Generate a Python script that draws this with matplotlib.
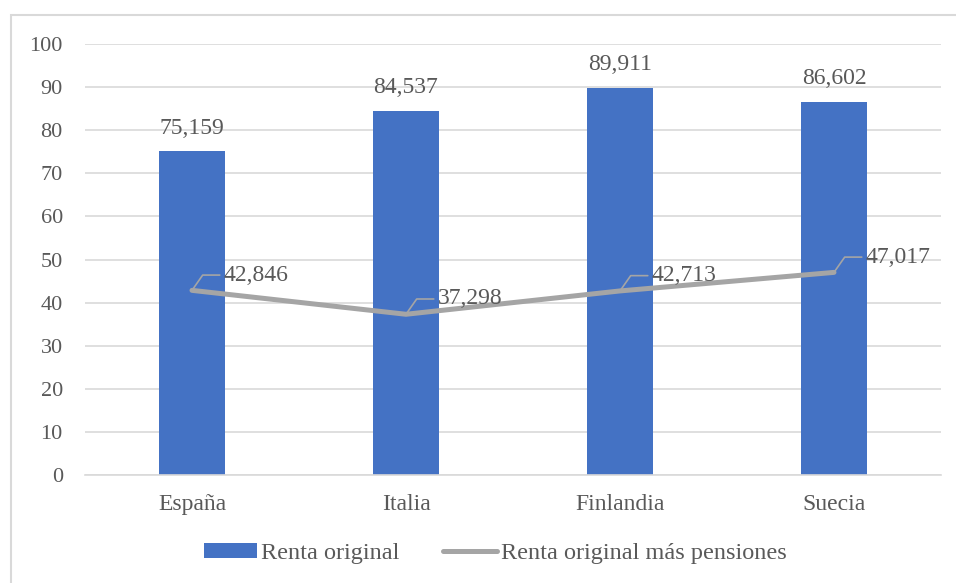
import numpy as np
import matplotlib.pyplot as plt
from matplotlib.patches import Rectangle
from matplotlib.lines import Line2D
from matplotlib.patches import Patch

# Data
paises = ['España', 'Italia', 'Finlandia', 'Suecia']
renta_original = [75.159, 84.537, 89.911, 86.602]
renta_pensiones = [42.846, 37.298, 42.713, 47.017]
etiq_original = ['75,159', '84,537', '89,911', '86,602']
etiq_pensiones = ['42,846', '37,298', '42,713', '47,017']

azul = '#4472C4'
gris = '#A5A5A5'
texto = '#595959'

plt.rcParams['font.family'] = ['Liberation Serif', 'DejaVu Serif']

fig = plt.figure(figsize=(9.56, 5.83), dpi=100)
ax = fig.add_axes([0.0889, 0.1852, 0.8954, 0.7393])

# chart border (Excel style)
fig.patches.append(Rectangle((11 / 956, -0.05), 1.2, 1 - 15 / 583 + 0.05,
                             transform=fig.transFigure, fill=False,
                             edgecolor='#D9D9D9', linewidth=1.5))

x = np.arange(len(paises))
ax.bar(x, renta_original, width=0.31, color=azul, zorder=2)
ax.plot(x, renta_pensiones, color=gris, linewidth=3.6, solid_capstyle='round', zorder=3)

for xi, v, s in zip(x, renta_original, etiq_original):
    ax.annotate(s, (xi, v), xytext=(0, 9), textcoords='offset points',
                ha='center', va='bottom', fontsize=17, color=texto)

for xi, v, s in zip(x, renta_pensiones, etiq_pensiones):
    ax.annotate(s, (xi, v), xytext=(23, 11), textcoords='offset points',
                ha='left', va='center', fontsize=17, color=texto, zorder=4,
                arrowprops=dict(arrowstyle='-', color=gris, linewidth=1.2,
                                shrinkA=1, shrinkB=0,
                                connectionstyle='angle,angleA=0,angleB=55,rad=0'))

ax.set_xlim(-0.5, 3.5)
ax.set_ylim(0, 100)
ax.set_yticks(range(0, 101, 10))
ax.set_xticks(x)
ax.set_xticklabels(paises)
ax.yaxis.grid(True, color='#D9D9D9', linewidth=1.2, zorder=0)
ax.set_axisbelow(True)
for sp in ['top', 'right', 'left']:
    ax.spines[sp].set_visible(False)
ax.spines['bottom'].set_color('#D9D9D9')
ax.spines['bottom'].set_linewidth(1.2)
ax.tick_params(axis='both', length=0, colors=texto)
ax.tick_params(axis='y', pad=16, labelsize=16)
ax.tick_params(axis='x', pad=14, labelsize=17)

handles = [Patch(facecolor=azul, edgecolor='none'),
           Line2D([0], [0], color=gris, linewidth=3.6, solid_capstyle='round')]
fig.legend(handles, ['Renta original', 'Renta original más pensiones'],
           loc='center', bbox_to_anchor=(0.518, 0.051), ncol=2, frameon=False,
           fontsize=17.5, labelcolor=texto, handlelength=2.2, handletextpad=0.16,
           columnspacing=1.8, handleheight=0.58)

plt.savefig('out.png', dpi=100)
